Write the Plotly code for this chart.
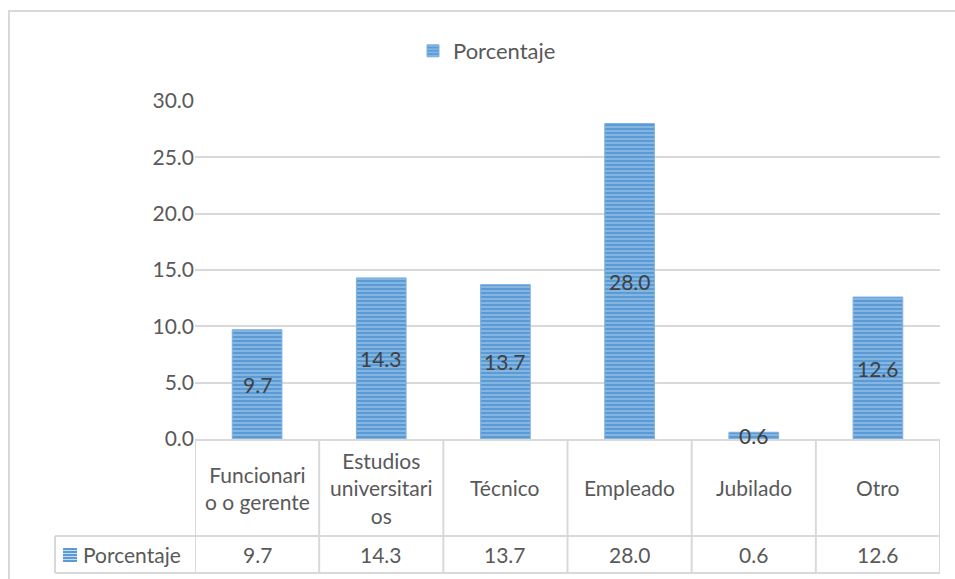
import plotly.graph_objects as go

# Data
categories = ["Funcionari<br>o o gerente", "Estudios<br>universitari<br>os", "Técnico",
              "Empleado", "Jubilado", "Otro"]
porcentaje = [9.7, 14.3, 13.7, 28.0, 0.6, 12.6]
series_name = "Porcentaje"
y_ticks = [0, 5, 10, 15, 20, 25, 30]

W, H = 955, 579
FONT = "Lato"
FS = 21
TXT = "#595959"
LBL = "#404040"
GRID = "#D9D9D9"
BLUE = "#5B9BD5"


def px_x(p):
    return p / W


def px_y(p):
    return (H - p) / H


x_dom = [px_x(195), px_x(940)]
y_dom = [px_y(439), px_y(101)]
n = len(categories)
idx = list(range(n))

fig = go.Figure()
fig.add_trace(go.Bar(
    x=idx, y=porcentaje, name=series_name, width=0.4,
    marker=dict(color=BLUE, line=dict(color="#7FB0DF", width=1),
                pattern=dict(shape="-", fgcolor="#D4E4F5", bgcolor=BLUE,
                             size=4, solidity=0.35)),
    hoverinfo="skip",
))

annotations = []
# data labels centred in each bar
for i, v in enumerate(porcentaje):
    annotations.append(dict(x=i, y=v / 2, xref="x", yref="y", text=f"{v:.1f}",
                            showarrow=False, xanchor="center", yanchor="middle",
                            font=dict(family=FONT, size=FS, color=LBL)))

# data table: category headers and values
header_mid = px_y((439 + 536) / 2)
value_mid = px_y((536 + 573) / 2)
for i, (c, v) in enumerate(zip(categories, porcentaje)):
    annotations.append(dict(x=i, y=header_mid, xref="x", yref="paper", text=c,
                            showarrow=False, align="center", xanchor="center",
                            yanchor="middle",
                            font=dict(family=FONT, size=FS, color=TXT)))
    annotations.append(dict(x=i, y=value_mid, xref="x", yref="paper", text=f"{v:.1f}",
                            showarrow=False, xanchor="center", yanchor="middle",
                            font=dict(family=FONT, size=FS, color=TXT)))
annotations.append(dict(x=px_x(81), y=value_mid, xref="paper", yref="paper",
                        text=series_name, showarrow=False, xanchor="left",
                        yanchor="middle",
                        font=dict(family=FONT, size=FS, color=TXT)))

shapes = []
line = dict(color=GRID, width=2)
# outer chart border
shapes.append(dict(type="rect", xref="paper", yref="paper", x0=px_x(9), x1=px_x(962),
                   y0=px_y(590), y1=px_y(11), line=line, layer="below"))
# table grid
shapes.append(dict(type="line", xref="paper", yref="paper", x0=px_x(55), x1=x_dom[1],
                   y0=px_y(536), y1=px_y(536), line=line))
shapes.append(dict(type="line", xref="paper", yref="paper", x0=px_x(55), x1=x_dom[1],
                   y0=px_y(573), y1=px_y(573), line=line))
shapes.append(dict(type="line", xref="paper", yref="paper", x0=px_x(55), x1=px_x(55),
                   y0=px_y(536), y1=px_y(573), line=line))
for k in range(n + 1):
    shapes.append(dict(type="line", xref="x", yref="paper", x0=k - 0.5, x1=k - 0.5,
                       y0=px_y(439), y1=px_y(573), line=line))
# striped legend key inside the table
shapes.append(dict(type="rect", xref="paper", yref="paper", x0=px_x(63), x1=px_x(77),
                   y0=px_y(562), y1=px_y(548), fillcolor=BLUE, line=dict(width=0)))
for yy in (550.5, 553.5, 556.5, 559.5):
    shapes.append(dict(type="line", xref="paper", yref="paper", x0=px_x(63), x1=px_x(77),
                       y0=px_y(yy), y1=px_y(yy), line=dict(color="#C9DDF2", width=1)))

fig.update_layout(
    width=W, height=H, autosize=False,
    margin=dict(l=0, r=0, t=0, b=0, pad=0, autoexpand=False),
    paper_bgcolor="white", plot_bgcolor="white",
    font=dict(family=FONT, size=FS, color=TXT),
    showlegend=True,
    legend=dict(orientation="h", x=px_x(413), xanchor="left", y=px_y(30), yanchor="top",
                itemwidth=30, font=dict(family=FONT, size=22, color=TXT),
                bgcolor="rgba(0,0,0,0)"),
    xaxis=dict(domain=x_dom, range=[-0.5, n - 0.5], showticklabels=False,
               showgrid=False, zeroline=False, showline=True, linecolor=GRID,
               linewidth=2, ticks="", fixedrange=True, automargin=False),
    yaxis=dict(domain=y_dom, range=[0, 30], tickvals=y_ticks, tickformat=".1f",
               showgrid=True, gridcolor=GRID, gridwidth=2, zeroline=False,
               showline=False, ticks="", ticklen=0, automargin=False,
               tickfont=dict(family=FONT, size=FS, color=TXT), fixedrange=True),
    annotations=annotations, shapes=shapes, bargap=0.6,
)

fig.write_html("out.html")
